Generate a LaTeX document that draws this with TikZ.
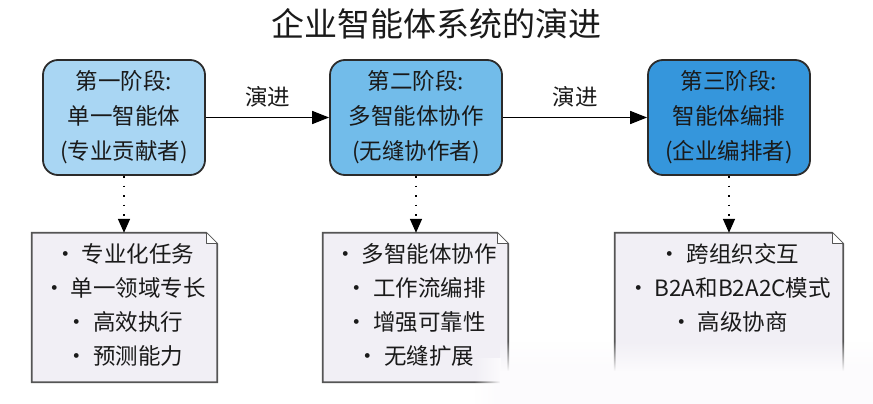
\documentclass[tikz,border=0pt]{standalone}
\usepackage{fontspec}
\setmainfont{Noto Sans CJK SC}
\usetikzlibrary{arrows.meta,calc,fadings}
\definecolor{txt}{HTML}{1A1A1A}
\definecolor{bdr}{HTML}{2B2B2B}
\definecolor{stageA}{HTML}{A9D6F3}
\definecolor{stageB}{HTML}{72BCEA}
\definecolor{stageC}{HTML}{3596DC}
\definecolor{notefill}{HTML}{F1EFF5}
\definecolor{noteline}{HTML}{555555}
\definecolor{veil}{HTML}{FCFBFD}
\tikzfading[name=fadedown, top color=transparent!100, bottom color=transparent!0]
\tikzfading[name=faderight, left color=transparent!100, right color=transparent!0]
\begin{document}
\begin{tikzpicture}[x=1pt,y=-1pt,
  stagebox/.style={draw=bdr, line width=1.8pt, rounded corners=15pt, minimum height=115pt,
    align=center, text=txt, font=\fontsize{22.5}{35}\selectfont, inner sep=0pt},
  notebox/.style={minimum height=149pt, align=center, text=txt,
    font=\fontsize{22.5}{34}\selectfont, inner sep=0pt},
  notetext/.style={align=center, text=txt, font=\fontsize{22.5}{34}\selectfont, inner sep=0pt},
  noteedge/.style={draw=noteline, fill=notefill, line width=1.8pt, line join=miter},
  flow/.style={line width=1.5pt, draw=black, -{Triangle[length=17pt,width=13pt]}},
  drop/.style={line width=1.6pt, draw=black, dash pattern=on 1.6pt off 8pt,
    -{Triangle[length=14pt,width=12pt]}},
  lbl/.style={text=txt, font=\fontsize{22.5}{27}\selectfont, inner sep=0pt}]
\useasboundingbox (0,0) rectangle (873,404);
\fill[white] (0,0) rectangle (873,404);

\node[text=txt, font=\fontsize{33}{40}\selectfont, inner sep=0pt] (title) at (436,24) {企业智能体系统的演进};

\node[stagebox, fill=stageA, minimum width=162pt] (s1) at (124,117.5) {第一阶段:\\单一智能体\\(专业贡献者)};
\node[stagebox, fill=stageB, minimum width=172pt] (s2) at (416,117.5) {第二阶段:\\多智能体协作\\(无缝协作者)};
\node[stagebox, fill=stageC, minimum width=162pt] (s3) at (729,117.5) {第三阶段:\\智能体编排\\(企业编排者)};

\draw[flow] (s1) -- (s2) node[lbl, midway, above=10pt] (l1) {演进};
\draw[flow] (s2) -- (s3) node[lbl, midway, above=10pt] (l2) {演进};

% notes
\node[notebox, minimum width=185pt] (n1) at (124.5,307.5) {};
\node[notebox, minimum width=185pt] (n2) at (415.5,307.5) {};
\node[notebox, minimum width=228pt] (n3) at (729,307.5) {};
\foreach \n in {n1,n2,n3}{
  \draw[noteedge] (\n.north west) -- ($(\n.north east)+(-11,0)$) -- ($(\n.north east)+(0,11)$)
     -- (\n.south east) -- (\n.south west) -- cycle;
  \draw[draw=noteline, fill=white, line width=1.2pt, line join=round]
     ($(\n.north east)+(-11,0)$) -- ($(\n.north east)+(-11,11)$) -- ($(\n.north east)+(0,11)$);
}
\node[notetext] (t1) at (124.5,304.5) {• 专业化任务\\• 单一领域专长\\• 高效执行\\• 预测能力};
\node[notetext] (t2) at (415.5,304.5) {• 多智能体协作\\• 工作流编排\\• 增强可靠性\\• 无缝扩展};
\node[notetext] (t3) at (729,287.5) {• 跨组织交互\\• B2A和B2A2C模式\\• 高级协商};

\draw[drop] (s1.south) -- (n1.north -| s1.south);
\draw[drop] (s2.south) -- (n2.north -| s2.south);
\draw[drop] (s3.south) -- (n3.north -| s3.south);

% white fade over the lower right corner, as in the picture
\fill[veil, path fading=fadedown] (500,341) rectangle (873,371);
\fill[veil] (500,370.5) rectangle (873,404);
\fill[veil, path fading=faderight] (474,358) rectangle (500.5,404);
\end{tikzpicture}
\end{document}
